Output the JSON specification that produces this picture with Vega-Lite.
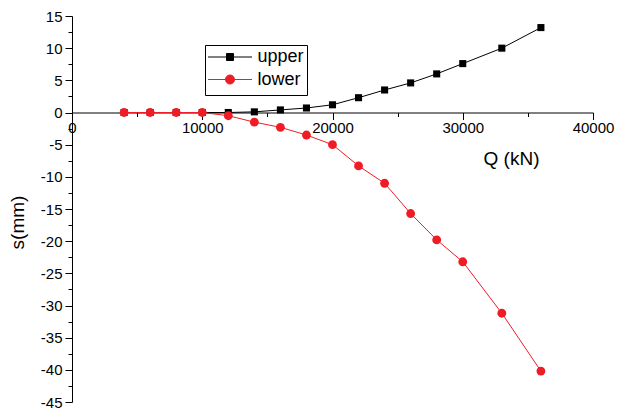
{
  "$schema": "https://vega.github.io/schema/vega-lite/v6.json",
  "width": 521,
  "height": 386,
  "autosize": "none",
  "padding": {"left": 72, "top": 16, "right": 25, "bottom": 12},
  "background": "white",
  "config": {
    "view": {"stroke": null},
    "font": "Liberation Sans",
    "axis": {
      "domainColor": "black",
      "tickColor": "black",
      "labelColor": "black",
      "titleColor": "black",
      "labelFont": "Liberation Sans",
      "titleFont": "Liberation Sans",
      "labelFontSize": 15,
      "titleFontSize": 19,
      "titleFontWeight": "normal",
      "grid": false,
      "domainWidth": 1,
      "tickWidth": 1
    }
  },
  "data": {
    "values": [
      {"Q": 4000, "s": 0, "series": "upper"},
      {"Q": 6000, "s": 0, "series": "upper"},
      {"Q": 8000, "s": 0, "series": "upper"},
      {"Q": 10000, "s": 0, "series": "upper"},
      {"Q": 12000, "s": 0.0, "series": "upper"},
      {"Q": 14000, "s": 0.1, "series": "upper"},
      {"Q": 16000, "s": 0.4, "series": "upper"},
      {"Q": 18000, "s": 0.7, "series": "upper"},
      {"Q": 20000, "s": 1.2, "series": "upper"},
      {"Q": 22000, "s": 2.3, "series": "upper"},
      {"Q": 24000, "s": 3.5, "series": "upper"},
      {"Q": 26000, "s": 4.6, "series": "upper"},
      {"Q": 28000, "s": 6.0, "series": "upper"},
      {"Q": 30000, "s": 7.6, "series": "upper"},
      {"Q": 33000, "s": 10.0, "series": "upper"},
      {"Q": 36000, "s": 13.2, "series": "upper"},
      {"Q": 4000, "s": 0, "series": "lower"},
      {"Q": 6000, "s": 0, "series": "lower"},
      {"Q": 8000, "s": 0, "series": "lower"},
      {"Q": 10000, "s": 0, "series": "lower"},
      {"Q": 12000, "s": -0.5, "series": "lower"},
      {"Q": 14000, "s": -1.5, "series": "lower"},
      {"Q": 16000, "s": -2.3, "series": "lower"},
      {"Q": 18000, "s": -3.5, "series": "lower"},
      {"Q": 20000, "s": -5.0, "series": "lower"},
      {"Q": 22000, "s": -8.3, "series": "lower"},
      {"Q": 24000, "s": -11.0, "series": "lower"},
      {"Q": 26000, "s": -15.7, "series": "lower"},
      {"Q": 28000, "s": -19.8, "series": "lower"},
      {"Q": 30000, "s": -23.2, "series": "lower"},
      {"Q": 33000, "s": -31.2, "series": "lower"},
      {"Q": 36000, "s": -40.2, "series": "lower"}
    ]
  },
  "layer": [
    {
      "mark": {"type": "line", "strokeWidth": 1},
      "encoding": {
        "x": {
          "field": "Q", "type": "quantitative",
          "scale": {"domain": [0, 40000], "nice": false, "zero": false},
          "axis": {
            "orient": "bottom", "offset": -289.5,
            "values": [0, 10000, 20000, 30000, 40000],
            "tickSize": 7, "labelPadding": 1, "labelFlush": false,
            "labelExpr": "datum.value + ''",
            "title": "Q (kN)", "titleX": 439, "titleY": 52,
            "titleAlign": "center", "titleBaseline": "alphabetic"
          }
        },
        "y": {
          "field": "s", "type": "quantitative",
          "scale": {"domain": [-45, 15], "nice": false, "zero": false},
          "axis": {
            "orient": "left",
            "values": [-45, -40, -35, -30, -25, -20, -15, -10, -5, 0, 5, 10, 15],
            "tickSize": 7, "labelPadding": 3,
            "labelExpr": "datum.value + ''",
            "title": "s(mm)", "titleX": -55, "titleY": 206,
            "titleAlign": "center", "titleBaseline": "middle", "titleAngle": -90
          }
        },
        "color": {
          "field": "series", "type": "nominal",
          "scale": {"domain": ["upper", "lower"], "range": ["black", "#ee1c25"]},
          "legend": null
        }
      }
    },
    {
      "mark": {"type": "point", "filled": true, "opacity": 1},
      "encoding": {
        "x": {
          "field": "Q", "type": "quantitative",
          "scale": {"domain": [0, 40000], "nice": false, "zero": false},
          "axis": {
            "orient": "bottom", "offset": -289.5,
            "values": [5000, 15000, 25000, 35000],
            "tickSize": 4, "labels": false, "domain": false, "title": null
          }
        },
        "y": {
          "field": "s", "type": "quantitative",
          "scale": {"domain": [-45, 15], "nice": false, "zero": false},
          "axis": {
            "orient": "left",
            "values": [-42.5, -37.5, -32.5, -27.5, -22.5, -17.5, -12.5, -7.5, -2.5, 2.5, 7.5, 12.5],
            "tickSize": 4, "labels": false, "domain": false, "title": null
          }
        },
        "color": {
          "field": "series", "type": "nominal",
          "scale": {"domain": ["upper", "lower"], "range": ["black", "#ee1c25"]},
          "legend": {
            "orient": "none", "legendX": 133, "legendY": 29,
            "title": null,
            "strokeColor": "black", "fillColor": "white",
            "padding": 3,
            "symbolSize": 16,
            "symbolStrokeWidth": 1,
            "symbolType": {"expr": "datum.value == 'upper' ? 'M-4.5,0H17.5M4.75,-1.75H8.25V1.75H4.75ZM6.5,-5M6.5,5' : 'M-4.5,0H17.5M8.75,0A2.25,2.25,0,1,1,4.25,0A2.25,2.25,0,1,1,8.75,0ZM6.5,-5M6.5,5'"},
            "symbolStrokeColor": {"expr": "datum.value == 'upper' ? 'black' : '#ee1c25'"},
            "labelFont": "Liberation Sans", "labelFontSize": 18, "labelColor": "black",
            "labelOffset": 31.5, "rowPadding": -1.5
          }
        },
        "shape": {
          "field": "series", "type": "nominal",
          "scale": {"domain": ["upper", "lower"], "range": ["square", "circle"]},
          "legend": null
        },
        "size": {
          "field": "series", "type": "nominal",
          "scale": {"domain": ["upper", "lower"], "range": [50, 78]},
          "legend": null
        }
      }
    }
  ],
  "resolve": {"axis": {"x": "independent", "y": "independent"}, "legend": {"color": "independent"}}
}
